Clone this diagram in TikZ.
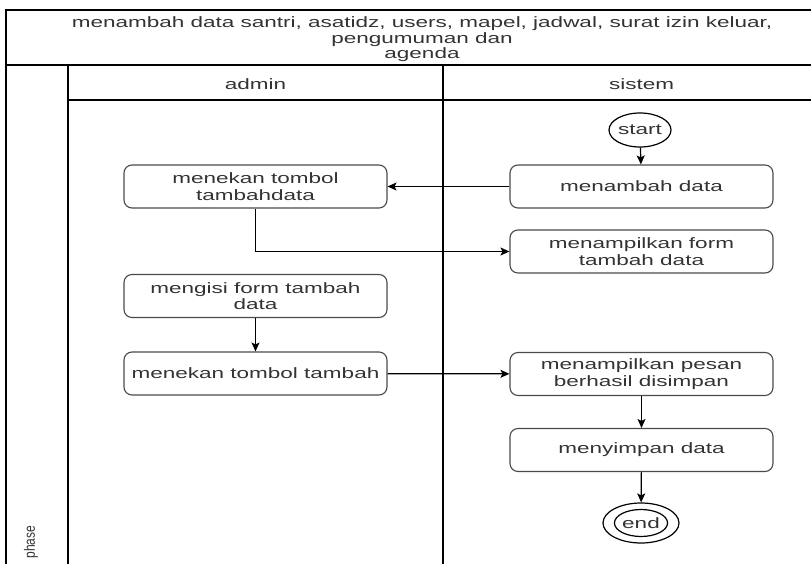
\documentclass[tikz,border=0pt]{standalone}
\usepackage{fontspec}
\setmainfont{Liberation Sans}[FakeStretch=1.5]
\newfontfamily\phasefont{Liberation Sans}[FakeStretch=0.8]
\usetikzlibrary{arrows.meta,shapes.geometric}
\definecolor{ink}{HTML}{333333}
\definecolor{edge}{HTML}{4A4A4A}
\tikzset{
  lane/.style={line width=1.3pt, draw=black},
  actbox/.style={draw=edge, line width=1.1pt, rounded corners=8pt,
    minimum width=263pt, minimum height=43pt, align=center, text=ink,
    font=\fontsize{15}{16.5}\selectfont, inner sep=2pt},
  termnode/.style={ellipse, draw=black, line width=1.2pt, text=ink,
    font=\fontsize{15}{16.5}\selectfont, inner sep=0pt},
  arr/.style={draw=black, line width=1.2pt,
    -{Stealth[length=9pt,width=8pt,inset=2pt]}},
  hdr/.style={text=ink, font=\fontsize{15}{15.5}\selectfont, align=center}
}
\begin{document}
\begin{tikzpicture}[x=1pt,y=-1pt]
\useasboundingbox (0,0) rectangle (811,564);
\begin{scope}
\clip (0,0) rectangle (811,564);
% pool frame
\draw[lane] (6,564) -- (6,10) -- (815,10);
\draw[lane] (6,65) -- (815,65);
\draw[lane] (68,65) -- (68,564);
\draw[lane] (68,100) -- (815,100);
\draw[lane] (443,65) -- (443,564);
\end{scope}

% headers
\node[hdr] (title) at (422,39.5) {menambah data santri, asatidz, users, mapel, jadwal, surat izin keluar,\\pengumuman dan\\agenda};
\node[hdr] (hadmin) at (255.5,84) {admin};
\node[hdr] (hsistem) at (641.5,84) {sistem};
\node[rotate=90, text=ink, font=\phasefont\fontsize{15}{15}\selectfont] (phase) at (31,542) {phase};

% activities
\node[termnode, minimum width=62pt, minimum height=34pt] (start) at (640,130) {start};
\node[actbox] (menambah) at (641.5,186.5) {menambah data};
\node[actbox] (tombolTD) at (255.5,186.5) {menekan tombol\\tambahdata};
\node[actbox] (form) at (641.5,251.5) {menampilkan form\\tambah data};
\node[actbox] (mengisi) at (255.5,296) {mengisi form tambah\\data};
\node[actbox] (tambah) at (255.5,373.5) {menekan tombol tambah};
\node[actbox] (pesan) at (641.5,374) {menampilkan pesan\\berhasil disimpan};
\node[actbox] (simpan) at (641.5,450) {menyimpan data};
\node[ellipse, draw=black, line width=1.2pt, minimum width=76pt, minimum height=40pt] (endo) at (641,523) {};
\node[termnode, minimum width=46pt, minimum height=27pt] (endi) at (641,523) {end};

% flow
\draw[arr] (start) -- (menambah);
\draw[arr] (menambah) -- (tombolTD);
\draw[arr] (tombolTD.south) |- (form.west);
\draw[arr] (mengisi) -- (tambah);
\draw[arr] (tambah) -- (pesan);
\draw[arr] (pesan) -- (simpan);
\draw[arr] (simpan) -- (endo);
\end{tikzpicture}
\end{document}
